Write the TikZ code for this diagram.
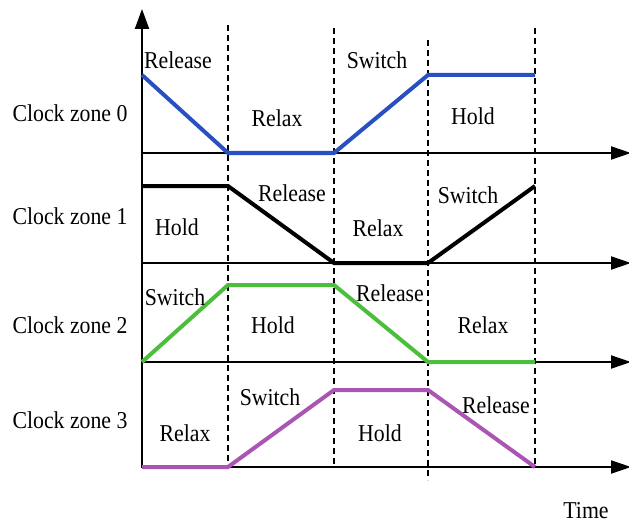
\documentclass[tikz,border=0pt]{standalone}
\usepackage{fontspec}
\setmainfont{Liberation Serif}[FakeStretch=0.9]
\usetikzlibrary{arrows.meta}
\definecolor{zblue}{RGB}{40,80,195}
\definecolor{zgreen}{RGB}{75,190,60}
\definecolor{zpurple}{RGB}{170,85,180}
\tikzset{
  lbl/.style={inner sep=0pt, font=\fontsize{24.2}{28}\selectfont},
  axis/.style={line width=2.2pt, -{Triangle[length=20pt,width=14pt]}},
  haxis/.style={line width=2pt, -{Triangle[length=20pt,width=13pt]}},
  sep/.style={line width=1.4pt, dash pattern=on 6pt off 4pt},
  sig/.style={line width=4pt, line join=miter}
}
\begin{document}
\begin{tikzpicture}[x=1pt,y=-1pt]
\useasboundingbox (0,0) rectangle (629,524);
% axes
\coordinate (ybot) at (142,468);
\coordinate (ytop) at (142,9);
\draw[axis] (ybot) -- (ytop);
\foreach \n/\y in {0/153,1/263,2/362,3/467}{
  \coordinate (h\n a) at (142,\y);
  \coordinate (h\n b) at (631,\y);
  \draw[haxis] (h\n a) -- (h\n b);
}
% dashed separators
\coordinate (d1a) at (228,25);  \coordinate (d1b) at (228,467);
\coordinate (d2a) at (334,28);  \coordinate (d2b) at (334,467);
\coordinate (d3a) at (428,40);  \coordinate (d3b) at (428,480);
\coordinate (d4a) at (535,28);  \coordinate (d4b) at (535,467);
\draw[sep] (d1a) -- (d1b);
\draw[sep] (d2a) -- (d2b);
\draw[sep] (d3a) -- (d3b);
\draw[sep] (d4a) -- (d4b);
% signals
\draw[sig, zblue] (142,75) -- (228,153) -- (334,153) -- (428,75) -- (535,75);
\draw[sig, black] (142,186) -- (228,186) -- (334,263) -- (428,263) -- (535,186);
\draw[sig, zgreen] (142,362) -- (228,285) -- (334,285) -- (428,362) -- (535,362);
\draw[sig, zpurple] (142,467) -- (228,467) -- (334,390) -- (428,390) -- (535,467);
% zone labels
\node[lbl] (z0) at (70,113) {Clock zone 0};
\node[lbl] (z1) at (70,216) {Clock zone 1};
\node[lbl] (z2) at (70,325) {Clock zone 2};
\node[lbl] (z3) at (70,420) {Clock zone 3};
% phase labels zone 0
\node[lbl] (a0) at (178,60) {Release};
\node[lbl] (b0) at (277,118) {Relax};
\node[lbl] (c0) at (377,60) {Switch};
\node[lbl] (e0) at (473,116) {Hold};
% zone 1
\node[lbl] (a1) at (177,227) {Hold};
\node[lbl] (b1) at (292,193) {Release};
\node[lbl] (c1) at (378,228) {Relax};
\node[lbl] (e1) at (468,195) {Switch};
% zone 2
\node[lbl] (a2) at (175,297) {Switch};
\node[lbl] (b2) at (273,325) {Hold};
\node[lbl] (c2) at (390,293) {Release};
\node[lbl] (e2) at (483,325) {Relax};
% zone 3
\node[lbl] (a3) at (185,433) {Relax};
\node[lbl] (b3) at (270,397) {Switch};
\node[lbl] (c3) at (380,433) {Hold};
\node[lbl] (e3) at (496,405) {Release};
% time
\node[lbl] (time) at (586,511) {Time};
\end{tikzpicture}
\end{document}
